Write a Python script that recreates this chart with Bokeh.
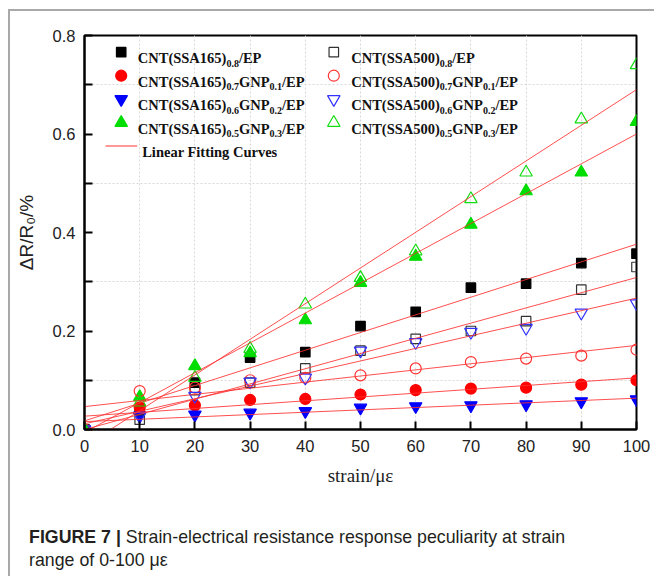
import numpy as np
from bokeh.plotting import figure
from bokeh.models import FixedTicker, Range1d, Div, PrintfTickFormatter
from bokeh.layouts import column
from bokeh.embed import file_html
from bokeh.resources import INLINE
from bokeh.core.properties import value

# ---------------- data ----------------
strain = [0, 10, 20, 30, 40, 50, 60, 70, 80, 90, 100]

ssa165_08 = [0, 0.040, 0.095, 0.146, 0.157, 0.210, 0.239, 0.288, 0.296, 0.338, 0.357]
ssa165_07 = [0, 0.045, 0.049, 0.060, 0.062, 0.071, 0.080, 0.083, 0.085, 0.091, 0.100]
ssa165_06 = [0, 0.028, 0.030, 0.034, 0.037, 0.044, 0.047, 0.049, 0.051, 0.057, 0.061]
ssa165_05 = [0, 0.066, 0.129, 0.155, 0.222, 0.298, 0.351, 0.416, 0.484, 0.522, 0.625]

ssa500_08 = [0, 0.020, 0.080, 0.095, 0.124, 0.160, 0.184, 0.200, 0.220, 0.284, 0.330]
ssa500_07 = [0, 0.078, 0.085, 0.100, 0.105, 0.110, 0.124, 0.137, 0.144, 0.150, 0.162]
ssa500_06 = [0, 0.027, 0.068, 0.097, 0.105, 0.160, 0.177, 0.198, 0.206, 0.237, 0.256]
ssa500_05 = [0, 0.055, 0.105, 0.164, 0.254, 0.308, 0.362, 0.468, 0.522, 0.630, 0.740]

labels = [
    [("CNT(SSA165)", False), ("0.8", True), ("/EP", False)],
    [("CNT(SSA165)", False), ("0.7", True), ("GNP", False), ("0.1", True), ("/EP", False)],
    [("CNT(SSA165)", False), ("0.6", True), ("GNP", False), ("0.2", True), ("/EP", False)],
    [("CNT(SSA165)", False), ("0.5", True), ("GNP", False), ("0.3", True), ("/EP", False)],
    [("CNT(SSA500)", False), ("0.8", True), ("/EP", False)],
    [("CNT(SSA500)", False), ("0.7", True), ("GNP", False), ("0.1", True), ("/EP", False)],
    [("CNT(SSA500)", False), ("0.6", True), ("GNP", False), ("0.2", True), ("/EP", False)],
    [("CNT(SSA500)", False), ("0.5", True), ("GNP", False), ("0.3", True), ("/EP", False)],
]
fit_label = "Linear Fitting Curves"

x_ticks = [0, 10, 20, 30, 40, 50, 60, 70, 80, 90, 100]
y_ticks = [0.0, 0.2, 0.4, 0.6, 0.8]
y_minor = [0.1, 0.3, 0.5, 0.7]

# ---------------- styles ----------------
series = [
    (ssa165_08, "square", 9.5, "black", "black"),
    (ssa165_07, "circle", 11, "#ff0000", "#ff0000"),
    (ssa165_06, "inverted_triangle", 12.5, "#0000ff", "#0000ff"),
    (ssa165_05, "triangle", 12.5, "#00dd00", "#00dd00"),
    (ssa500_08, "square", 9.5, "#333333", None),
    (ssa500_07, "circle", 11, "#ff3333", None),
    (ssa500_06, "inverted_triangle", 12.5, "#3333ff", None),
    (ssa500_05, "triangle", 12.5, "#11dd11", None),
]

# frame geometry in page pixels (for legend placement)
FL, FT, FW, FH = 84, 36, 552, 394
XMAX, YMAX = 100.0, 0.8


def px2x(px):
    return (px - FL) / FW * XMAX


def py2y(py):
    return (FT + FH - py) / FH * YMAX


p = figure(width=644, height=493, output_backend="svg", toolbar_location=None,
           x_range=Range1d(0, 100), y_range=Range1d(0, 0.8),
           min_border_left=74, min_border_right=18, min_border_top=24, min_border_bottom=75)
p.background_fill_color = "white"
p.border_fill_color = "white"
p.outline_line_color = "black"
p.outline_line_width = 2

# grid
p.xgrid.ticker = FixedTicker(ticks=x_ticks[1:-1])
p.ygrid.ticker = FixedTicker(ticks=y_minor)
for g in (p.xgrid, p.ygrid):
    g.grid_line_color = "#d8d8d8"
    g.grid_line_dash = "2 2"
    g.grid_line_width = 1

# axes
p.xaxis.ticker = FixedTicker(ticks=x_ticks)
p.yaxis.ticker = FixedTicker(ticks=y_ticks, minor_ticks=y_minor)
p.yaxis.formatter = PrintfTickFormatter(format="%.1f")
for ax in (p.xaxis, p.yaxis):
    ax.axis_line_color = "black"
    ax.axis_line_width = 2
    ax.major_tick_in = 8
    ax.major_tick_out = 0
    ax.major_tick_line_width = 2
    ax.major_tick_line_color = "black"
    ax.minor_tick_in = 8
    ax.minor_tick_out = 0
    ax.minor_tick_line_width = 2
    ax.minor_tick_line_color = "black"
    ax.major_label_text_font = "Liberation Sans"
    ax.major_label_text_font_size = "16.5px"
    ax.major_label_text_color = "#222222"
    ax.axis_label_text_font_style = "normal"
    ax.axis_label_text_color = "#222222"
p.xaxis.major_label_standoff = 10
p.yaxis.major_label_standoff = 9
p.xaxis.axis_label = "strain/με"
p.xaxis.axis_label_text_font = "Liberation Serif"
p.xaxis.axis_label_text_font_size = "19px"
p.xaxis.axis_label_standoff = 10
p.yaxis.axis_label = "ΔR/R₀/%"
p.yaxis.axis_label_text_font = "Liberation Sans"
p.yaxis.axis_label_text_font_size = "19px"
p.yaxis.axis_label_standoff = 13

# data markers
xs = np.array(strain, dtype=float)
for vals, marker, size, color, fill in series:
    p.scatter(strain, vals, marker=marker, size=size, line_color=color,
              fill_color=fill if fill else None, line_width=1.2)

# linear fitting curves (least squares on each series)
xfit = np.array([0.0, 100.0])
for vals, *_ in series:
    k, b = np.polyfit(xs, np.array(vals), 1)
    p.line(xfit, k * xfit + b, line_color="#ff3030", line_width=1, line_alpha=0.85)

# ---------------- legend ----------------
TB = {'C': 722, 'N': 722, 'T': 667, '(': 333, ')': 333, 'S': 556, 'A': 722, 'E': 667,
      'P': 611, 'G': 778, '/': 278, '.': 250}
MAIN, SUB = 14.5, 10.0


def tw(s, size):
    return sum(TB.get(c, 500) for c in s) * size / 1000.0


col_marker_x = [120.7, 333.3]
col_text_x = [137.3, 350.7]
row_y = [52.7, 76.2, 99.7, 123.2, 146.5]

tx, ty, tt, sx_, sy_, st = [], [], [], [], [], []
for i, (vals, marker, size, color, fill) in enumerate(series):
    c, r = divmod(i, 4)
    p.scatter([px2x(col_marker_x[c])], [py2y(row_y[r])], marker=marker, size=size,
              line_color=color, fill_color=fill if fill else None, line_width=1.2)
    cur = col_text_x[c]
    base = row_y[r] + 6.0
    for seg, is_sub in labels[i]:
        if is_sub:
            sx_.append(px2x(cur)); sy_.append(py2y(base + 5.0)); st.append(seg)
            cur += tw(seg, SUB)
        else:
            tx.append(px2x(cur)); ty.append(py2y(base)); tt.append(seg)
            cur += tw(seg, MAIN)

p.text(tx, ty, text=tt, text_font=value("Liberation Serif"), text_font_style="bold",
       text_font_size=f"{MAIN}px", text_baseline="alphabetic", text_align="left", text_color="#111111")
p.text(sx_, sy_, text=st, text_font=value("Liberation Serif"), text_font_style="bold",
       text_font_size=f"{SUB}px", text_baseline="alphabetic", text_align="left", text_color="#111111")

p.line([px2x(105), px2x(136.7)], [py2y(row_y[4])] * 2, line_color="#ff3030", line_width=1)
p.text([px2x(141.7)], [py2y(row_y[4] + 5.5)], text=[fit_label], text_font=value("Liberation Serif"),
       text_font_style="bold", text_font_size=f"{MAIN}px", text_baseline="alphabetic",
       text_align="left", text_color="#111111")

caption = Div(
    text=('<div style="font-family:\'Liberation Sans Narrow\',\'Liberation Sans\',Arial,sans-serif;'
          'font-size:19px;line-height:23px;color:#231f20;padding:16px 0 0 15px;white-space:nowrap;'
          'transform:scaleX(0.935);transform-origin:left top;">'
          '<b>FIGURE 7 |</b> Strain-electrical resistance response peculiarity at strain<br>'
          'range of 0-100 με</div>'),
    width=640, height=62)

layout = column(p, caption)
layout.styles = {"border-top": "2px solid #a9a9a9", "border-left": "2px solid #a9a9a9",
                 "margin-top": "9px", "margin-left": "8px"}

open("out.html", "w").write(file_html(layout, INLINE))
